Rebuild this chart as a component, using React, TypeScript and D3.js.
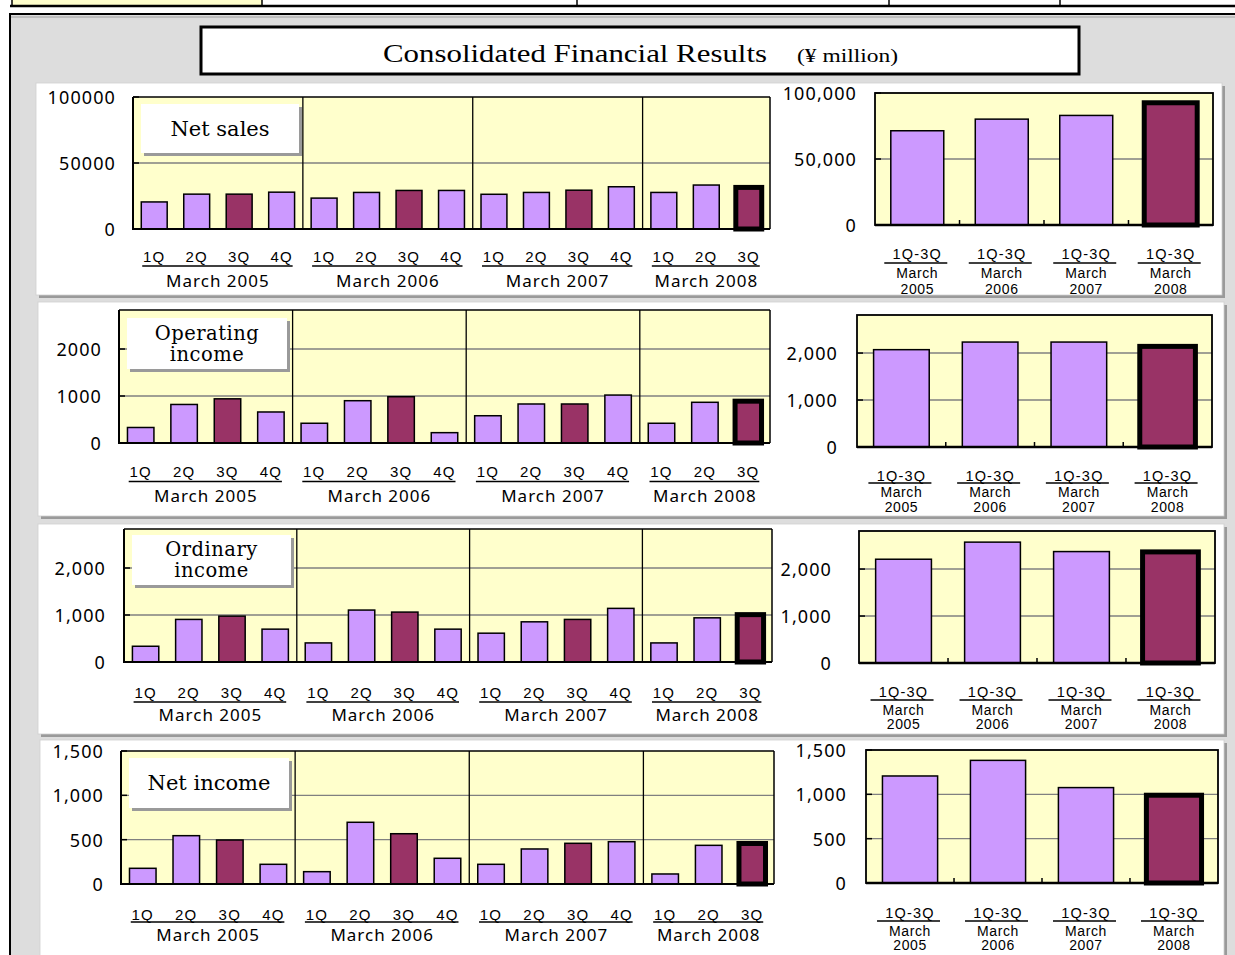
import React from "react";
import * as d3 from "d3";

// ---------- data ----------
const yearLabels = ["March 2005", "March 2006", "March 2007", "March 2008"];
const yearShort = ["2005", "2006", "2007", "2008"];
const quarterNames = ["1Q", "2Q", "3Q", "4Q"];
const quarterCounts = [4, 4, 4, 3];
const cumulativeLabel = "1Q-3Q";
const monthLabel = "March";

const netSalesQuarterly = [20500, 26400, 26400, 27900, 23400, 27700, 29200, 29200, 26300, 27700, 29400, 32000, 27700, 33300, 31500];
const netSalesCumulative = [71400, 80200, 83000, 92600];
const netSalesTicks = [0, 50000, 100000];
const netSalesLeftTickLabels = ["0", "50000", "100000"];
const netSalesRightTickLabels = ["0", "50,000", "100,000"];

const operatingQuarterly = [330, 820, 940, 660, 420, 900, 985, 220, 580, 830, 830, 1020, 420, 866, 890];
const operatingCumulative = [2072, 2234, 2234, 2142];
const operatingTicks = [0, 1000, 2000];
const operatingLeftTickLabels = ["0", "1000", "2000"];
const operatingRightTickLabels = ["0", "1,000", "2,000"];

const ordinaryQuarterly = [335, 906, 976, 699, 406, 1105, 1062, 699, 613, 855, 906, 1141, 406, 940, 1008];
const ordinaryCumulative = [2209, 2573, 2372, 2365];
const ordinaryTicks = [0, 1000, 2000];
const ordinaryLeftTickLabels = ["0", "1,000", "2,000"];
const ordinaryRightTickLabels = ["0", "1,000", "2,000"];

const netIncomeQuarterly = [177, 545, 496, 222, 139, 696, 567, 290, 222, 395, 459, 477, 113, 436, 457];
const netIncomeCumulative = [1207, 1383, 1076, 990];
const netIncomeTicks = [0, 500, 1000, 1500];
const netIncomeLeftTickLabels = ["0", "500", "1,000", "1,500"];
const netIncomeRightTickLabels = ["0", "500", "1,000", "1,500"];

const mainTitle = "Consolidated Financial Results";
const unitLabel = "(¥ million)";

// ---------- styles ----------
const LIGHT = "#CC99FF";
const DARK = "#993366";
const PLOT_BG = "#FFFFCC";
const GRID = "#808080";
const SANS = "'Noto Sans', 'DejaVu Sans', sans-serif";
const NARROW = "'Liberation Sans', Arial, sans-serif";
const SERIF = "'DejaVu Serif', 'Liberation Serif', serif";

type PanelCfg = {
  panel: { x: number; y: number; w: number; h: number };
  left: { x0: number; x1: number; y0: number; y1: number; labelX: number; max: number };
  right: { x0: number; x1: number; y0: number; y1: number; labelX: number; max: number };
  box: { x: number; y: number; w: number; h: number; lineGap: number; fontSize: number };
  qOff: number[];
  rOff: number[];
};

const layouts: PanelCfg[] = [
  {
    panel: { x: 36, y: 83, w: 1186, h: 212 },
    left: { x0: 133, x1: 770, y0: 97, y1: 229, labelX: 116, max: 100000 },
    right: { x0: 875, x1: 1213, y0: 93, y1: 225, labelX: 857, max: 100000 },
    box: { x: 141, y: 104, w: 158, h: 49, lineGap: 20, fontSize: 21 },
    qOff: [27, 37, 51],
    rOff: [29, 38, 48, 64],
  },
  {
    panel: { x: 38, y: 302, w: 1186, h: 214 },
    left: { x0: 119, x1: 770, y0: 310, y1: 443, labelX: 102, max: 2830 },
    right: { x0: 857, x1: 1212, y0: 315, y1: 447, labelX: 838, max: 2810 },
    box: { x: 127, y: 318, w: 160, h: 51, lineGap: 21, fontSize: 19.5 },
    qOff: [28, 38.5, 52],
    rOff: [29, 36, 45, 60],
  },
  {
    panel: { x: 38, y: 524, w: 1186, h: 210 },
    left: { x0: 124, x1: 772, y0: 529, y1: 662, labelX: 106, max: 2830 },
    right: { x0: 859, x1: 1215, y0: 531, y1: 663, labelX: 832, max: 2810 },
    box: { x: 132, y: 535, w: 159, h: 50, lineGap: 21, fontSize: 19.5 },
    qOff: [30, 40, 52],
    rOff: [29, 37, 47, 61],
  },
  {
    panel: { x: 40, y: 740, w: 1184, h: 240 },
    left: { x0: 121, x1: 774, y0: 751, y1: 884, labelX: 104, max: 1500 },
    right: { x0: 866, x1: 1218, y0: 750, y1: 883, labelX: 847, max: 1500 },
    box: { x: 129, y: 758, w: 160, h: 50, lineGap: 20, fontSize: 21 },
    qOff: [30, 38, 50],
    rOff: [30, 38, 48, 62],
  },
];

type PanelData = {
  title: string[];
  quarterly: number[];
  cumulative: number[];
  ticks: number[];
  leftLabels: string[];
  rightLabels: string[];
};

const panelData: PanelData[] = [
  { title: ["Net sales"], quarterly: netSalesQuarterly, cumulative: netSalesCumulative, ticks: netSalesTicks, leftLabels: netSalesLeftTickLabels, rightLabels: netSalesRightTickLabels },
  { title: ["Operating", "income"], quarterly: operatingQuarterly, cumulative: operatingCumulative, ticks: operatingTicks, leftLabels: operatingLeftTickLabels, rightLabels: operatingRightTickLabels },
  { title: ["Ordinary", "income"], quarterly: ordinaryQuarterly, cumulative: ordinaryCumulative, ticks: ordinaryTicks, leftLabels: ordinaryLeftTickLabels, rightLabels: ordinaryRightTickLabels },
  { title: ["Net income"], quarterly: netIncomeQuarterly, cumulative: netIncomeCumulative, ticks: netIncomeTicks, leftLabels: netIncomeLeftTickLabels, rightLabels: netIncomeRightTickLabels },
];

// categories for quarterly chart
const quarterCats: { year: number; q: number }[] = [];
quarterCounts.forEach((n, yi) => {
  for (let q = 0; q < n; q++) quarterCats.push({ year: yi, q });
});

function Panel({ cfg, data }: { cfg: PanelCfg; data: PanelData }) {
  const L = cfg.left;
  const R = cfg.right;
  const xL = d3.scaleBand<number>().domain(d3.range(quarterCats.length)).range([L.x0, L.x1]).paddingInner(0.39).paddingOuter(0.195);
  const yL = d3.scaleLinear().domain([0, L.max]).range([L.y1, L.y0]);
  const xR = d3.scaleBand<number>().domain(d3.range(yearLabels.length)).range([R.x0, R.x1]).paddingInner(0.373).paddingOuter(0.187);
  const yR = d3.scaleLinear().domain([0, R.max]).range([R.y1, R.y0]);
  const bwL = xL.bandwidth();
  const bwR = xR.bandwidth();
  const stepL = xL.step();
  const stepR = xR.step();
  const lastQ = quarterCats.length - 1;
  const lastY = yearLabels.length - 1;

  const groups = yearLabels.map((lab, yi) => {
    const idx = quarterCats.map((c, i) => (c.year === yi ? i : -1)).filter((i) => i >= 0);
    return { lab, first: idx[0], last: idx[idx.length - 1] };
  });

  const P = cfg.panel;
  const B = cfg.box;
  return (
    <g>
      {/* panel */}
      <rect x={P.x + 3} y={P.y + 3} width={P.w} height={P.h} fill="#9a9a9a" />
      <rect x={P.x} y={P.y} width={P.w} height={P.h} fill="#ffffff" stroke="#cfcfcf" strokeWidth={0.8} />

      {/* ---------- left chart ---------- */}
      <rect x={L.x0} y={L.y0} width={L.x1 - L.x0} height={L.y1 - L.y0} fill={PLOT_BG} />
      {data.ticks.filter((t) => t > 0 && yL(t) > L.y0 + 1).map((t) => (
        <line key={"gl" + t} x1={L.x0} x2={L.x1} y1={yL(t)} y2={yL(t)} stroke={GRID} strokeWidth={1.4} />
      ))}
      {groups.slice(1).map((g) => {
        const dx = (xL(g.first) as number) - (stepL - bwL) / 2;
        return <line key={"dv" + g.first} x1={dx} x2={dx} y1={L.y0} y2={L.y1} stroke="#000" strokeWidth={1.3} />;
      })}
      {quarterCats.map((c, i) => {
        const v = data.quarterly[i];
        const hl = i === lastQ;
        return (
          <rect key={"qb" + i} x={xL(i)} y={yL(v)} width={bwL} height={L.y1 - yL(v)} fill={c.q === 2 ? DARK : LIGHT} stroke="#000" strokeWidth={hl ? 5 : 1.5} />
        );
      })}
      {data.ticks.filter((t) => t > 0).map((t) => (
        <line key={"tk" + t} x1={L.x0} x2={L.x0 + 6} y1={yL(t)} y2={yL(t)} stroke="#000" strokeWidth={1.5} />
      ))}
      <line x1={L.x0} x2={L.x1} y1={L.y0} y2={L.y0} stroke="#000" strokeWidth={1.5} />
      <line x1={L.x1} x2={L.x1} y1={L.y0} y2={L.y1} stroke="#000" strokeWidth={1.5} />
      <line x1={L.x0} x2={L.x0} y1={L.y0} y2={L.y1 + 1} stroke="#000" strokeWidth={2} />
      <line x1={L.x0} x2={L.x1} y1={L.y1} y2={L.y1} stroke="#000" strokeWidth={2.2} />
      {data.ticks.map((t, i) => (
        <text key={"yl" + t} x={L.labelX} y={yL(t)} textAnchor="end" dominantBaseline="central" fontFamily={SANS} fontSize={18} letterSpacing={1.1} fill="#000">
          {data.leftLabels[i]}
        </text>
      ))}
      {quarterCats.map((c, i) => (
        <text key={"ql" + i} x={(xL(i) as number) + bwL / 2} y={L.y1 + cfg.qOff[0]} textAnchor="middle" dominantBaseline="central" fontFamily={NARROW} fontSize={15} letterSpacing={1.2} fill="#000">
          {quarterNames[c.q]}
        </text>
      ))}
      {groups.map((g) => {
        const cf = (xL(g.first) as number) + bwL / 2;
        const cl = (xL(g.last) as number) + bwL / 2;
        return (
          <g key={"grp" + g.lab}>
            <line x1={cf - 12} x2={cl + 11} y1={L.y1 + cfg.qOff[1]} y2={L.y1 + cfg.qOff[1]} stroke="#000" strokeWidth={1.5} />
            <text x={(cf + cl) / 2} y={L.y1 + cfg.qOff[2]} textAnchor="middle" dominantBaseline="central" fontFamily={SANS} fontSize={17} letterSpacing={1} fill="#000">
              {g.lab}
            </text>
          </g>
        );
      })}

      {/* label box */}
      <rect x={B.x + 3} y={B.y + 3} width={B.w} height={B.h} fill="#9a9a9a" />
      <rect x={B.x} y={B.y} width={B.w} height={B.h} fill="#ffffff" />
      {data.title.map((t, i) => (
        <text key={"bt" + i} x={B.x + B.w / 2} y={B.y + B.h / 2 + (i - (data.title.length - 1) / 2) * B.lineGap} textAnchor="middle" dominantBaseline="central" fontFamily={SERIF} fontSize={B.fontSize} letterSpacing={data.title.length > 1 ? 0.5 : 0} fill="#000">
          {t}
        </text>
      ))}

      {/* ---------- right chart ---------- */}
      <rect x={R.x0} y={R.y0} width={R.x1 - R.x0} height={R.y1 - R.y0} fill={PLOT_BG} />
      {data.ticks.filter((t) => t > 0 && yR(t) > R.y0 + 1).map((t) => (
        <line key={"rgl" + t} x1={R.x0} x2={R.x1} y1={yR(t)} y2={yR(t)} stroke={GRID} strokeWidth={1.4} />
      ))}
      {data.cumulative.map((v, i) => (
        <rect key={"rb" + i} x={xR(i)} y={yR(v)} width={bwR} height={R.y1 - yR(v)} fill={i === lastY ? DARK : LIGHT} stroke="#000" strokeWidth={i === lastY ? 5 : 1.5} />
      ))}
      {d3.range(1, yearLabels.length).map((i) => {
        const bx = (xR(i) as number) - (stepR - bwR) / 2;
        return <line key={"rt" + i} x1={bx} x2={bx} y1={R.y1} y2={R.y1 - 5} stroke="#000" strokeWidth={1.5} />;
      })}
      {data.ticks.filter((t) => t > 0).map((t) => (
        <line key={"rtk" + t} x1={R.x0} x2={R.x0 + 6} y1={yR(t)} y2={yR(t)} stroke="#000" strokeWidth={1.5} />
      ))}
      <rect x={R.x0} y={R.y0} width={R.x1 - R.x0} height={R.y1 - R.y0} fill="none" stroke="#000" strokeWidth={1.8} />
      <line x1={R.x0} x2={R.x1} y1={R.y1} y2={R.y1} stroke="#000" strokeWidth={2.4} />
      {data.ticks.map((t, i) => (
        <text key={"ryl" + t} x={R.labelX} y={yR(t)} textAnchor="end" dominantBaseline="central" fontFamily={SANS} fontSize={18} letterSpacing={1.1} fill="#000">
          {data.rightLabels[i]}
        </text>
      ))}
      {yearShort.map((ys, i) => {
        const cx = (xR(i) as number) + bwR / 2;
        return (
          <g key={"rl" + ys}>
            <text x={cx} y={R.y1 + cfg.rOff[0]} textAnchor="middle" dominantBaseline="central" fontFamily={NARROW} fontSize={14.5} letterSpacing={1.2} fill="#000">
              {cumulativeLabel}
            </text>
            <line x1={cx - 33} x2={cx + 30} y1={R.y1 + cfg.rOff[1]} y2={R.y1 + cfg.rOff[1]} stroke="#000" strokeWidth={1.5} />
            <text x={cx} y={R.y1 + cfg.rOff[2]} textAnchor="middle" dominantBaseline="central" fontFamily={NARROW} fontSize={14} letterSpacing={0.6} fill="#000">
              {monthLabel}
            </text>
            <text x={cx} y={R.y1 + cfg.rOff[3]} textAnchor="middle" dominantBaseline="central" fontFamily={NARROW} fontSize={14} letterSpacing={0.6} fill="#000">
              {ys}
            </text>
          </g>
        );
      })}
    </g>
  );
}

export default function App() {
  const W = 1235;
  const H = 955;
  return (
    <svg width={W} height={H} style={{ position: "absolute", left: 0, top: 0, background: "#ffffff" }}>
      {/* top table fragment */}
      <rect x={12} y={0} width={250} height={5} fill={PLOT_BG} />
      {[12, 262, 577, 889, 1060].map((x) => (
        <line key={"tv" + x} x1={x} x2={x} y1={0} y2={6} stroke="#000" strokeWidth={1.5} />
      ))}
      <line x1={10} x2={W} y1={6} y2={6} stroke="#000" strokeWidth={2.5} />

      {/* grey frame */}
      <rect x={10} y={14} width={W} height={H} fill="#DDDDDD" stroke="#000" strokeWidth={2} />
      <line x1={11} x2={W} y1={17} y2={17} stroke="#a0a0a0" strokeWidth={1} />

      {/* title box */}
      <rect x={201} y={27} width={878} height={47} fill="#ffffff" stroke="#000" strokeWidth={3} />
      <text x={383} y={62} fontFamily="'Liberation Serif', serif" fontSize={26} textLength={384} lengthAdjust="spacingAndGlyphs" fill="#000">
        {mainTitle}
      </text>
      <text x={797} y={62} fontFamily="'Liberation Serif', serif" fontSize={18} textLength={101} lengthAdjust="spacingAndGlyphs" fill="#000">
        {unitLabel}
      </text>

      {layouts.map((cfg, i) => (
        <Panel key={"p" + i} cfg={cfg} data={panelData[i]} />
      ))}
    </svg>
  );
}
